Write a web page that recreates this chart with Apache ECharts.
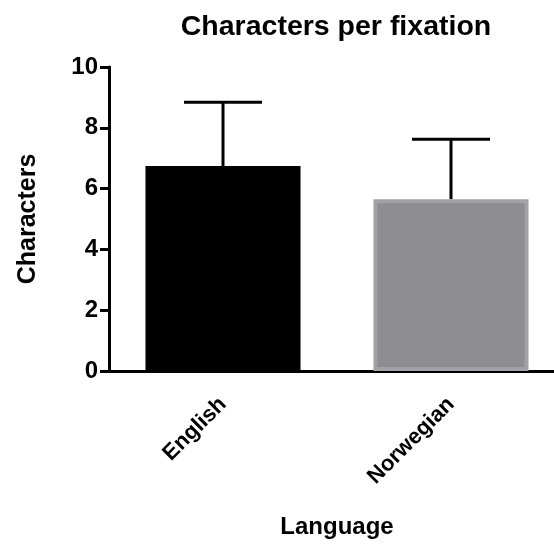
<!DOCTYPE html>
<html><head><meta charset="utf-8">
<script src="https://cdn.jsdelivr.net/npm/echarts@6/dist/echarts.min.js"></script>
<style>html,body{margin:0;padding:0;background:#fff}#c{width:554px;height:547px}</style>
</head><body><div id="c"></div>
<script>
const categories = ['English', 'Norwegian'];
const means = [6.74, 5.65];
const errors = [2.1, 1.97];
const barColors = ['#000000', '#8e8d92'];
const barBorders = ['#000000', '#a2a1a5'];
const yTicks = [0, 2, 4, 6, 8, 10];

const FONT = '"Liberation Sans", Arial, Helvetica, sans-serif';
const chart = echarts.init(document.getElementById('c'));
chart.setOption({
  animation: false,
  title: {
    text: 'Characters per fixation', left: 331, top: 8, textAlign: 'center',
    textStyle: {fontFamily: FONT, fontWeight: 'bold', fontSize: 28.5, color: '#000'}
  },
  grid: {left: 109, top: 67, bottom: 176, width: 456, outerBoundsMode: 'none', containLabel: false},
  xAxis: {
    type: 'category', data: categories,
    name: 'Language', nameLocation: 'middle', nameGap: 144,
    nameTextStyle: {fontFamily: FONT, fontWeight: 'bold', fontSize: 24, color: '#000', padding: [0, 0, 0, 0]},
    axisLine: {lineStyle: {color: '#000', width: 3}},
    axisTick: {alignWithLabel: true, length: 9, lineStyle: {color: '#000', width: 3}},
    axisLabel: {rotate: 45, margin: 30, fontFamily: FONT, fontWeight: 'bold', fontSize: 22, color: '#000'}
  },
  yAxis: {
    type: 'value', min: 0, max: 10, interval: 2,
    name: 'Characters', nameLocation: 'middle', nameGap: 68, nameRotate: 90,
    nameTextStyle: {fontFamily: FONT, fontWeight: 'bold', fontSize: 25, color: '#000'},
    axisLine: {show: true, lineStyle: {color: '#000', width: 3}},
    axisTick: {show: true, length: 9, lineStyle: {color: '#000', width: 3}},
    axisLabel: {margin: 11, fontFamily: FONT, fontWeight: 'bold', fontSize: 24, color: '#000',
      formatter: v => yTicks.includes(v) ? String(v) : ''},
    splitLine: {show: false}
  },
  series: [
    {
      type: 'custom',
      z: 1,
      renderItem: function (params, api) {
        const i = api.value(0);
        const m = api.value(1);
        const e = api.value(2);
        const top = api.coord([i, m + e]);
        const base = api.coord([i, m]);
        const hw = 39;
        return {
          type: 'group',
          children: [
            {type: 'line', shape: {x1: top[0], y1: top[1], x2: base[0], y2: base[1]}, style: {stroke: '#000', lineWidth: 3}},
            {type: 'line', shape: {x1: top[0] - hw, y1: top[1], x2: top[0] + hw, y2: top[1]}, style: {stroke: '#000', lineWidth: 3}}
          ]
        };
      },
      data: categories.map((c, i) => [i, means[i], errors[i]])
    },
    {
      type: 'bar', z: 2, barWidth: '68%',
      data: means.map((v, i) => ({value: v, itemStyle: {color: barColors[i], borderColor: barBorders[i], borderWidth: 4}}))
    }
  ]
});
</script></body></html>
